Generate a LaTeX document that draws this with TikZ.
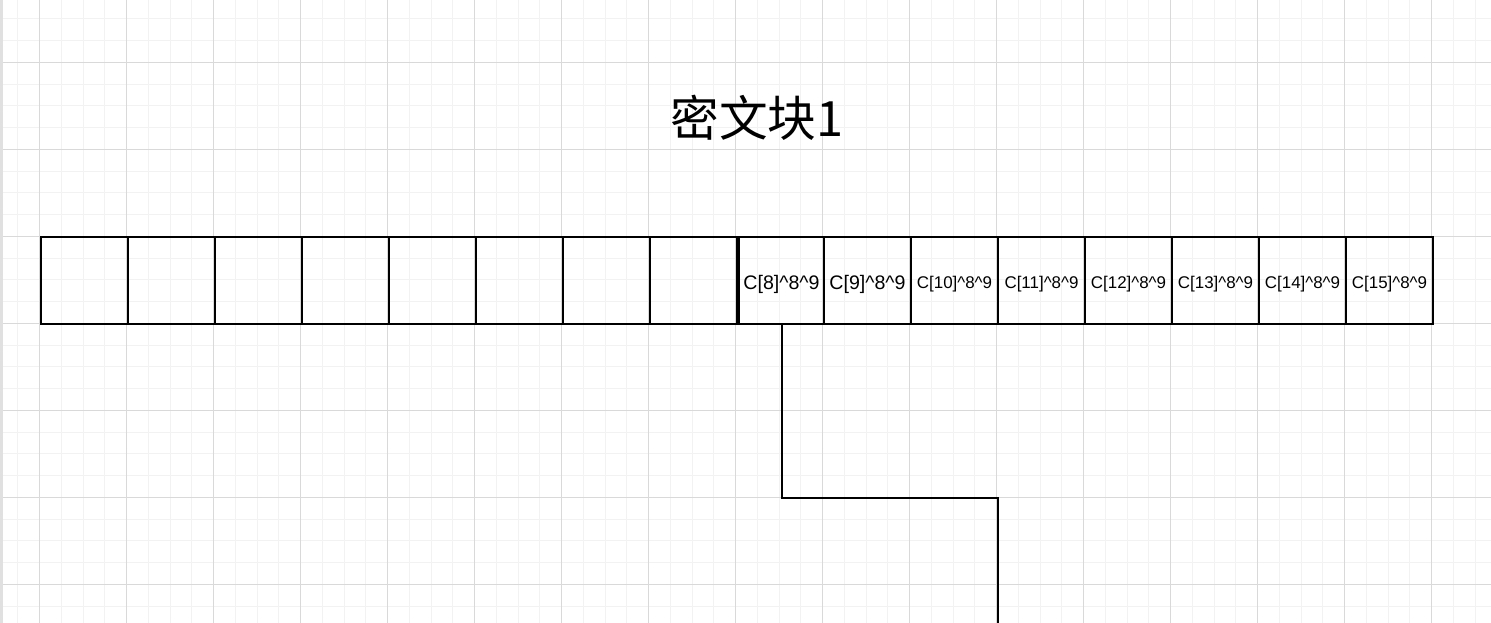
\documentclass[tikz,border=0pt]{standalone}
\usepackage{fontspec}
\setmainfont{Liberation Sans}
\newfontfamily\cjk{Noto Sans CJK SC}
\newcommand{\celltext}[1]{\raisebox{-2.6pt}[\height][\depth]{#1}}
\tikzset{
  minorgrid/.style={draw=black!5, line width=0.75pt},
  majorgrid/.style={draw=black!15, line width=0.75pt},
  cell/.style={draw=black, line width=1.5pt, rectangle, minimum height=65.25pt, minimum width=65.25pt, inner sep=0pt, anchor=center},
  bigtxt/.style={font=\fontsize{14.7}{17}\selectfont},
  smalltxt/.style={font=\fontsize{12.7}{15}\selectfont},
  wire/.style={draw=black, line width=1.5pt},
}
\begin{document}
\begin{tikzpicture}[x=0.75pt, y=-0.75pt]
\useasboundingbox (0,0) rectangle (1491,623);
\fill[white] (0,0) rectangle (1491,623);
\begin{scope}
\clip (0,0) rectangle (1491,623);
\foreach \i in {-2,...,67} \draw[minorgrid] ({39.7+21.75*\i},0) -- ({39.7+21.75*\i},623);
\foreach \i in {-3,...,26} \draw[minorgrid] (0,{62.3+21.75*\i}) -- (1491,{62.3+21.75*\i});
\foreach \i in {-1,...,17} \draw[majorgrid] ({39.7+87*\i},0) -- ({39.7+87*\i},623);
\foreach \i in {-1,...,7} \draw[majorgrid] (0,{62.3+87*\i}) -- (1491,{62.3+87*\i});
\fill[black!12] (0,0) rectangle (3,623);
\end{scope}
% title
\node[font=\cjk\fontsize{36.5}{40}\selectfont] (title) at (757,118) {密文块1};
% empty cells
\node[cell] (b0) at (84.5,280.5) {};
\node[cell] (b1) at (171.5,280.5) {};
\node[cell] (b2) at (258.5,280.5) {};
\node[cell] (b3) at (345.5,280.5) {};
\node[cell] (b4) at (432.5,280.5) {};
\node[cell] (b5) at (519.5,280.5) {};
\node[cell] (b6) at (606.5,280.5) {};
\node[cell] (b7) at (693.5,280.5) {};
% labelled cells
\node[cell, bigtxt, minimum width=63.75pt] (b8) at (781.5,280.5) {\celltext{C[8]\^{}8\^{}9}};
\node[cell, bigtxt] (b9) at (867.5,280.5) {\celltext{C[9]\^{}8\^{}9}};
\node[cell, smalltxt] (b10) at (954.5,280.5) {\celltext{C[10]\^{}8\^{}9}};
\node[cell, smalltxt] (b11) at (1041.5,280.5) {\celltext{C[11]\^{}8\^{}9}};
\node[cell, smalltxt] (b12) at (1128.5,280.5) {\celltext{C[12]\^{}8\^{}9}};
\node[cell, smalltxt] (b13) at (1215.5,280.5) {\celltext{C[13]\^{}8\^{}9}};
\node[cell, smalltxt] (b14) at (1302.5,280.5) {\celltext{C[14]\^{}8\^{}9}};
\node[cell, smalltxt] (b15) at (1389.5,280.5) {\celltext{C[15]\^{}8\^{}9}};
% connector
\coordinate (bend1) at (b8.south |- 0,498);
\coordinate (bend2) at (998,498);
\coordinate (wireend) at (998,630);
\draw[wire] (b8.south) -- (bend1) -- (bend2) -- (wireend);
\end{tikzpicture}
\end{document}
